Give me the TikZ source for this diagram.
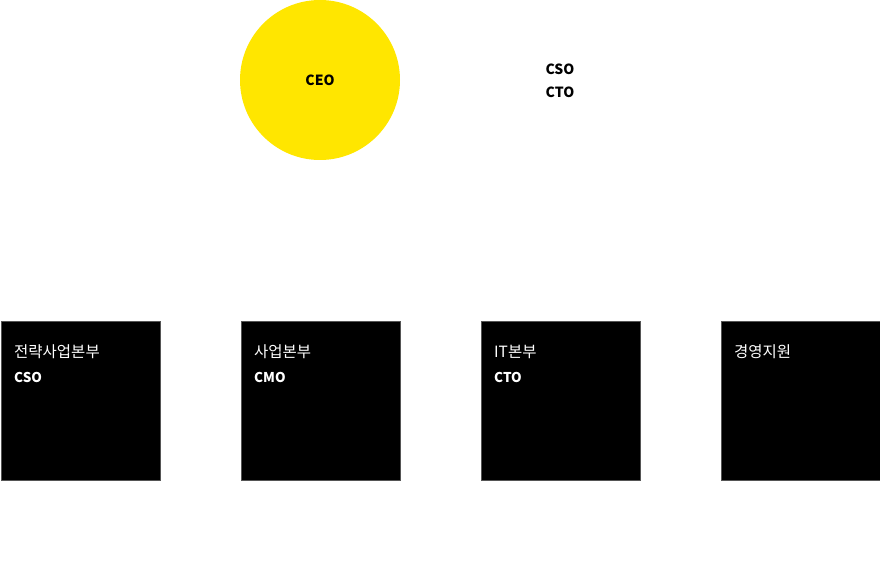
\documentclass[tikz,border=0pt]{standalone}
\definecolor{ceoyellow}{RGB}{255,230,0}
\definecolor{boxedge}{RGB}{85,85,85}
\usepackage{fontspec}
\setmainfont{Noto Sans CJK KR}
\usetikzlibrary{positioning,calc}
\tikzset{
  ceo/.style={circle,fill=ceoyellow,minimum size=160pt,inner sep=0pt,
              font=\fontsize{14}{16}\selectfont\bfseries},
  unit/.style={rectangle,draw=boxedge,line width=1pt,fill=black,
               minimum size=159pt,inner sep=0pt,anchor=north west},
  unitname/.style={text=white,font=\fontsize{15.5}{18}\selectfont,
                   anchor=base west,inner sep=0pt},
  unithead/.style={text=white,font=\fontsize{13.5}{16}\selectfont\bfseries,
                   anchor=west,inner sep=0pt},
  staff/.style={align=center,font=\fontsize{14}{23}\selectfont\bfseries,
                inner sep=0pt},
}

\begin{document}
\begin{tikzpicture}[x=1pt,y=1pt]
  \useasboundingbox (0,0) rectangle (880,-577);
  \node[ceo] (ceo) at (320,-80) {CEO};
  \node[staff] (staff) at (560,-80.5) {CSO\\CTO};
  \foreach \i/\n/\h in {0/전략사업본부/CSO,
                        1/사업본부/CMO,
                        2/IT본부/CTO,
                        3/경영지원/}{
    \node[unit] (unit\i) at (0.5+\i*240,-321) {};
    \node[unitname] (name\i) at ($(unit\i.north west)+(13.5,-36)$) {\n};
    \node[unithead] (head\i) at ($(unit\i.north west)+(13.5,-56)$) {\h};
  }
\end{tikzpicture}
\end{document}
